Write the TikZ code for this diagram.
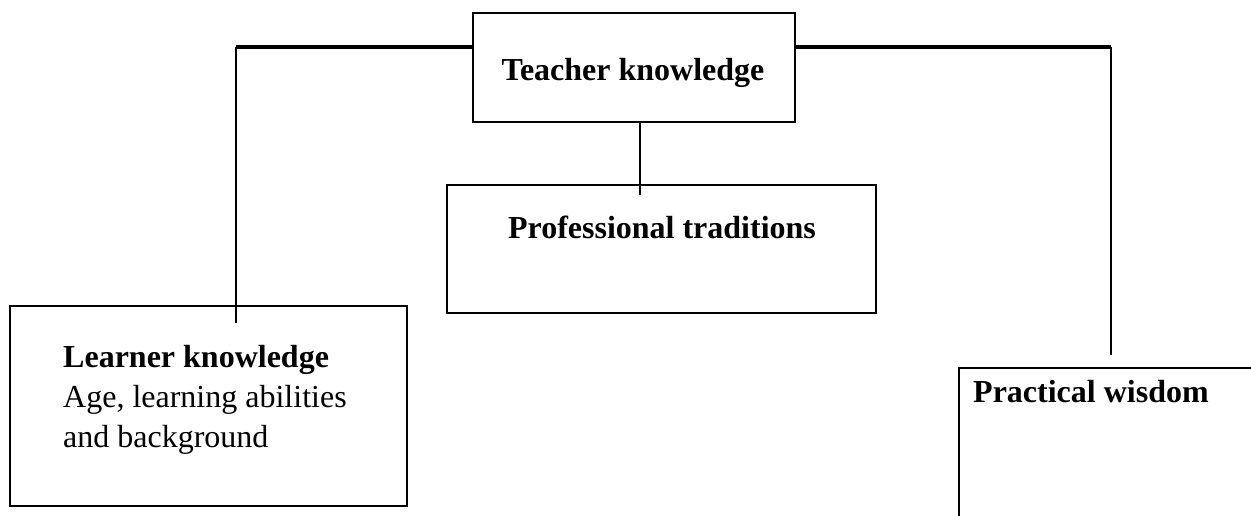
\documentclass[tikz,border=0pt]{standalone}
\usepackage{fontspec}
\setmainfont{Liberation Serif}
\usetikzlibrary{positioning, calc}

\begin{document}
\begin{tikzpicture}[
  x=1pt, y=-1pt,
  every node/.style={font=\fontsize{32}{40}\selectfont},
  %% ── Box styles ──────────────────────────────────────────────────────────
  kbox/.style={
    draw, line width=2pt, inner sep=0pt, outer sep=0pt
  },
  lbl/.style={inner sep=0pt, font=\fontsize{32}{40}\selectfont\bfseries},
  %% ── Connector styles ────────────────────────────────────────────────────
  hconn/.style={line width=3.5pt},
  vconn/.style={line width=2pt},
]

\useasboundingbox (0,0) rectangle (1251,515);

%% ═══════════════════════════════════════════════════════════════════════════
%% NODES
%% ═══════════════════════════════════════════════════════════════════════════

%% — Top box ─────────────────────────────────────────────────────────────────
\node[kbox, minimum width=322pt, minimum height=109pt]
  (TK) at (634, 67.5) {};
\node[lbl, anchor=base]
  (TKl) at (633, 80)
  {Teacher knowledge};

%% — Middle box ──────────────────────────────────────────────────────────────
\node[kbox, minimum width=429pt, minimum height=128pt]
  (PT) at (661.5, 249) {};
\node[lbl, anchor=base]
  (PTl) at (662, 238)
  {Professional traditions};

%% — Left box ────────────────────────────────────────────────────────────────
\node[kbox, minimum width=397pt, minimum height=200pt]
  (LK) at (208.5, 406) {};
\node[inner sep=0pt, align=left, anchor=north west]
  (LKl) at (63, 345)
  {\textbf{Learner knowledge}\\
   Age, learning abilities\\
   and background};

%% — Right box (runs off the page) ───────────────────────────────────────────
\node[kbox, minimum width=306pt, minimum height=162pt]
  (PW) at (1112, 449) {};
\node[lbl, anchor=base west]
  (PWl) at (973, 402)
  {Practical wisdom};

%% ═══════════════════════════════════════════════════════════════════════════
%% CONNECTORS
%% ═══════════════════════════════════════════════════════════════════════════

\coordinate (yTop)  at (0, 47);
\coordinate (lkEnd) at (236, 323);
\coordinate (ptEnd) at (640, 195);
\coordinate (pwEnd) at (1111, 355);

%% — Teacher to learner ──────────────────────────────────────────────────────
\draw[hconn] (TK.west |- yTop) -- (yTop -| lkEnd);
\draw[vconn] (yTop -| lkEnd) -- (lkEnd);

%% — Teacher to traditions ───────────────────────────────────────────────────
\draw[vconn] (TK.south -| ptEnd) -- (ptEnd);

%% — Teacher to wisdom ───────────────────────────────────────────────────────
\draw[hconn] (TK.east |- yTop) -- (yTop -| pwEnd);
\draw[vconn] (yTop -| pwEnd) -- (pwEnd);

\end{tikzpicture}
\end{document}
